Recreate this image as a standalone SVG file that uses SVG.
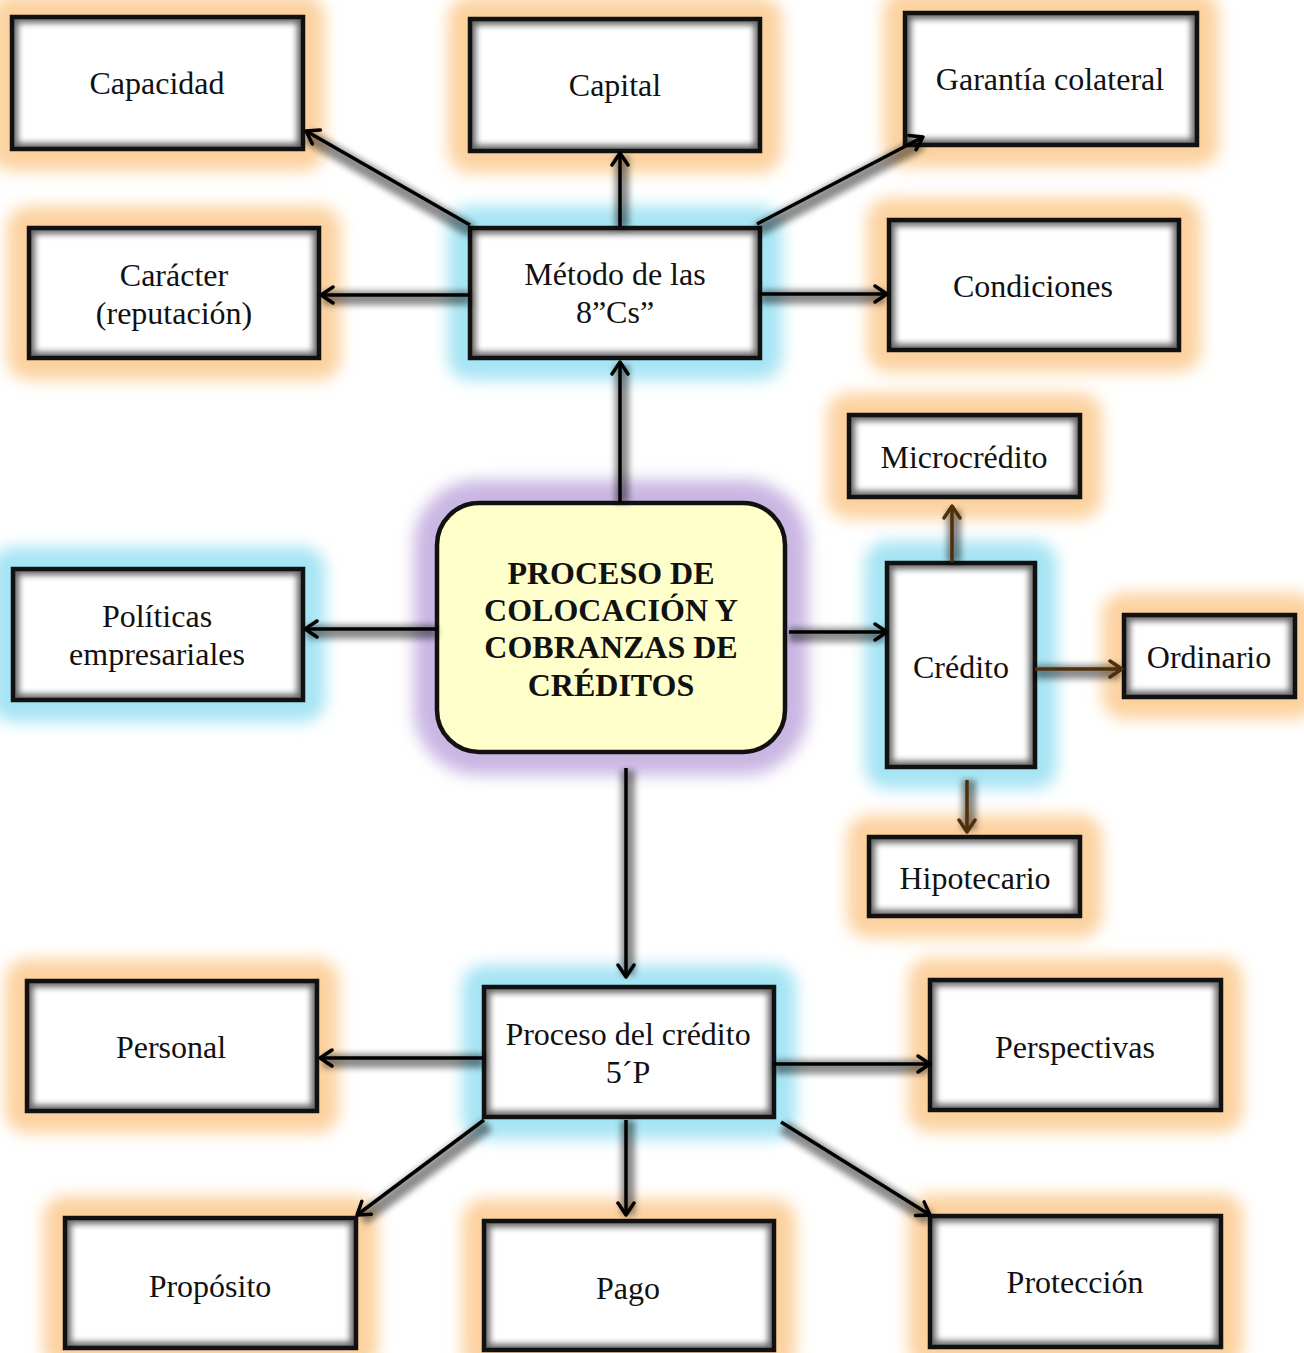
<svg xmlns="http://www.w3.org/2000/svg" width="1304" height="1353" viewBox="0 0 1304 1353">
  <style>
    .glow-o { fill: #fcd29f; stroke: #fcd29f; stroke-width: 44; stroke-linejoin: round; }
    .glow-b { fill: #a5e4f4; stroke: #a5e4f4; stroke-width: 44; stroke-linejoin: round; }
    .glow-p { fill: #c9b6e3; stroke: #c9b6e3; stroke-width: 46; }
    .face { fill: #ffffff; }
    .face-y { fill: #ffffcc; }
    .rim { fill: none; stroke: #000; stroke-opacity: 0.6; stroke-width: 12; }
    .edge { fill: none; stroke: #111; stroke-width: 4.5; }
    .lbl { font-family: "Liberation Serif", "Times New Roman", serif; font-size: 32px; fill: #111; text-anchor: middle; }
    .big { font-family: "Liberation Serif", "Times New Roman", serif; font-size: 32px; font-weight: bold; fill: #111; text-anchor: middle; }
    .band { fill: #000; fill-opacity: 0.45; }
    .line { stroke: #000; stroke-width: 3.5; fill: none; marker-end: url(#head); }
    .line-br { stroke: #4f300c; stroke-width: 3.5; fill: none; marker-end: url(#head-br); }
  </style>
  <defs>
    <filter id="soft" filterUnits="userSpaceOnUse" x="0" y="0" width="1304" height="1353">
      <feGaussianBlur stdDeviation="8"/>
    </filter>
    <filter id="rimblur" filterUnits="userSpaceOnUse" x="0" y="0" width="1304" height="1353">
      <feGaussianBlur stdDeviation="3"/>
    </filter>
    <!-- clips a shape's soft rim to the inside of its own box -->
    <clipPath id="inbox" clipPathUnits="objectBoundingBox">
      <rect x="0" y="0" width="1" height="1"/>
    </clipPath>
    <marker id="head" viewBox="0 0 16 20" markerWidth="16" markerHeight="20" refX="14" refY="10" orient="auto" markerUnits="userSpaceOnUse">
      <path d="M2,2 L14,10 L2,18" fill="none" stroke="#000" stroke-width="3.5" stroke-linecap="round" stroke-linejoin="round"/>
    </marker>
    <marker id="head-br" viewBox="0 0 16 20" markerWidth="16" markerHeight="20" refX="14" refY="10" orient="auto" markerUnits="userSpaceOnUse">
      <path d="M2,2 L14,10 L2,18" fill="none" stroke="#4f300c" stroke-width="3.5" stroke-linecap="round" stroke-linejoin="round"/>
    </marker>
  </defs>

  <rect width="1304" height="1353" fill="#ffffff"/>

  <!-- coloured halos behind all boxes -->
  <g id="halos" filter="url(#soft)">
    <rect class="glow-o" x="12" y="17" width="291" height="132"/>
    <rect class="glow-o" x="470" y="19" width="290" height="132"/>
    <rect class="glow-o" x="905" y="13" width="292" height="132"/>
    <rect class="glow-o" x="29" y="228" width="290" height="130"/>
    <rect class="glow-b" x="470" y="228" width="290" height="130"/>
    <rect class="glow-o" x="889" y="220" width="290" height="130"/>
    <rect class="glow-o" x="849" y="415" width="231" height="82"/>
    <rect class="glow-b" x="13" y="569" width="290" height="131"/>
    <rect class="glow-p" x="437" y="503" width="348" height="249" rx="42"/>
    <rect class="glow-b" x="887" y="563" width="148" height="204"/>
    <rect class="glow-o" x="1124" y="615" width="171" height="82"/>
    <rect class="glow-o" x="869" y="837" width="211" height="79"/>
    <rect class="glow-b" x="484" y="987" width="290" height="130"/>
    <rect class="glow-o" x="27" y="981" width="290" height="130"/>
    <rect class="glow-o" x="930" y="980" width="291" height="130"/>
    <rect class="glow-o" x="65" y="1218" width="291" height="130"/>
    <rect class="glow-o" x="484" y="1221" width="290" height="129"/>
    <rect class="glow-o" x="930" y="1216" width="291" height="131"/>
  </g>

  <g id="capacidad">
    <rect class="face" x="12" y="17" width="291" height="132"/>
    <g clip-path="url(#inbox)"><rect class="rim" x="12" y="17" width="291" height="132" filter="url(#rimblur)"/></g>
    <rect class="edge" x="12" y="17" width="291" height="132"/>
    <text class="lbl" x="157" y="94">Capacidad</text>
  </g>
  <g id="capital">
    <rect class="face" x="470" y="19" width="290" height="132"/>
    <g clip-path="url(#inbox)"><rect class="rim" x="470" y="19" width="290" height="132" filter="url(#rimblur)"/></g>
    <rect class="edge" x="470" y="19" width="290" height="132"/>
    <text class="lbl" x="615" y="96">Capital</text>
  </g>
  <g id="garantia">
    <rect class="face" x="905" y="13" width="292" height="132"/>
    <g clip-path="url(#inbox)"><rect class="rim" x="905" y="13" width="292" height="132" filter="url(#rimblur)"/></g>
    <rect class="edge" x="905" y="13" width="292" height="132"/>
    <text class="lbl" x="1050" y="90">Garantía colateral</text>
  </g>
  <g id="caracter">
    <rect class="face" x="29" y="228" width="290" height="130"/>
    <g clip-path="url(#inbox)"><rect class="rim" x="29" y="228" width="290" height="130" filter="url(#rimblur)"/></g>
    <rect class="edge" x="29" y="228" width="290" height="130"/>
    <text class="lbl" x="174" y="286">Carácter</text>
    <text class="lbl" x="174" y="324">(reputación)</text>
  </g>
  <g id="metodo">
    <rect class="face" x="470" y="228" width="290" height="130"/>
    <g clip-path="url(#inbox)"><rect class="rim" x="470" y="228" width="290" height="130" filter="url(#rimblur)"/></g>
    <rect class="edge" x="470" y="228" width="290" height="130"/>
    <text class="lbl" x="615" y="285">Método de las</text>
    <text class="lbl" x="615" y="323">8”Cs”</text>
  </g>
  <g id="condiciones">
    <rect class="face" x="889" y="220" width="290" height="130"/>
    <g clip-path="url(#inbox)"><rect class="rim" x="889" y="220" width="290" height="130" filter="url(#rimblur)"/></g>
    <rect class="edge" x="889" y="220" width="290" height="130"/>
    <text class="lbl" x="1033" y="297">Condiciones</text>
  </g>
  <g id="microcredito">
    <rect class="face" x="849" y="415" width="231" height="82"/>
    <g clip-path="url(#inbox)"><rect class="rim" x="849" y="415" width="231" height="82" filter="url(#rimblur)"/></g>
    <rect class="edge" x="849" y="415" width="231" height="82"/>
    <text class="lbl" x="964" y="468">Microcrédito</text>
  </g>
  <g id="politicas">
    <rect class="face" x="13" y="569" width="290" height="131"/>
    <g clip-path="url(#inbox)"><rect class="rim" x="13" y="569" width="290" height="131" filter="url(#rimblur)"/></g>
    <rect class="edge" x="13" y="569" width="290" height="131"/>
    <text class="lbl" x="157" y="627">Políticas</text>
    <text class="lbl" x="157" y="665">empresariales</text>
  </g>
  <g id="proceso-colocacion">
    <rect class="face-y" x="437" y="503" width="348" height="249" rx="42"/>
    <rect class="edge" x="437" y="503" width="348" height="249" rx="42"/>
    <text class="big" x="611" y="584">PROCESO DE</text>
    <text class="big" x="611" y="621">COLOCACIÓN Y</text>
    <text class="big" x="611" y="658">COBRANZAS DE</text>
    <text class="big" x="611" y="696">CRÉDITOS</text>
  </g>
  <g id="credito">
    <rect class="face" x="887" y="563" width="148" height="204"/>
    <g clip-path="url(#inbox)"><rect class="rim" x="887" y="563" width="148" height="204" filter="url(#rimblur)"/></g>
    <rect class="edge" x="887" y="563" width="148" height="204"/>
    <text class="lbl" x="961" y="678">Crédito</text>
  </g>
  <g id="ordinario">
    <rect class="face" x="1124" y="615" width="171" height="82"/>
    <g clip-path="url(#inbox)"><rect class="rim" x="1124" y="615" width="171" height="82" filter="url(#rimblur)"/></g>
    <rect class="edge" x="1124" y="615" width="171" height="82"/>
    <text class="lbl" x="1209" y="668">Ordinario</text>
  </g>
  <g id="hipotecario">
    <rect class="face" x="869" y="837" width="211" height="79"/>
    <g clip-path="url(#inbox)"><rect class="rim" x="869" y="837" width="211" height="79" filter="url(#rimblur)"/></g>
    <rect class="edge" x="869" y="837" width="211" height="79"/>
    <text class="lbl" x="975" y="889">Hipotecario</text>
  </g>
  <g id="proceso-credito">
    <rect class="face" x="484" y="987" width="290" height="130"/>
    <g clip-path="url(#inbox)"><rect class="rim" x="484" y="987" width="290" height="130" filter="url(#rimblur)"/></g>
    <rect class="edge" x="484" y="987" width="290" height="130"/>
    <text class="lbl" x="628" y="1045">Proceso del crédito</text>
    <text class="lbl" x="628" y="1083">5´P</text>
  </g>
  <g id="personal">
    <rect class="face" x="27" y="981" width="290" height="130"/>
    <g clip-path="url(#inbox)"><rect class="rim" x="27" y="981" width="290" height="130" filter="url(#rimblur)"/></g>
    <rect class="edge" x="27" y="981" width="290" height="130"/>
    <text class="lbl" x="171" y="1058">Personal</text>
  </g>
  <g id="perspectivas">
    <rect class="face" x="930" y="980" width="291" height="130"/>
    <g clip-path="url(#inbox)"><rect class="rim" x="930" y="980" width="291" height="130" filter="url(#rimblur)"/></g>
    <rect class="edge" x="930" y="980" width="291" height="130"/>
    <text class="lbl" x="1075" y="1058">Perspectivas</text>
  </g>
  <g id="proposito">
    <rect class="face" x="65" y="1218" width="291" height="130"/>
    <g clip-path="url(#inbox)"><rect class="rim" x="65" y="1218" width="291" height="130" filter="url(#rimblur)"/></g>
    <rect class="edge" x="65" y="1218" width="291" height="130"/>
    <text class="lbl" x="210" y="1297">Propósito</text>
  </g>
  <g id="pago">
    <rect class="face" x="484" y="1221" width="290" height="129"/>
    <g clip-path="url(#inbox)"><rect class="rim" x="484" y="1221" width="290" height="129" filter="url(#rimblur)"/></g>
    <rect class="edge" x="484" y="1221" width="290" height="129"/>
    <text class="lbl" x="628" y="1299">Pago</text>
  </g>
  <g id="proteccion">
    <rect class="face" x="930" y="1216" width="291" height="131"/>
    <g clip-path="url(#inbox)"><rect class="rim" x="930" y="1216" width="291" height="131" filter="url(#rimblur)"/></g>
    <rect class="edge" x="930" y="1216" width="291" height="131"/>
    <text class="lbl" x="1075" y="1293">Protección</text>
  </g>

  <!-- soft shadow bands that sit under the connector lines -->
  <g id="connector-shade">
    <rect class="band" filter="url(#rimblur)" x="472" y="224" width="190" height="14" transform="rotate(209.93 472 231)"/>
    <rect class="band" filter="url(#rimblur)" x="615" y="156" width="14" height="72"/>
    <rect class="band" filter="url(#rimblur)" x="758" y="223" width="185" height="14" transform="rotate(-27.94 758 230)"/>
    <rect class="band" filter="url(#rimblur)" x="323" y="291" width="147" height="14"/>
    <rect class="band" filter="url(#rimblur)" x="760" y="290" width="125" height="14"/>
    <rect class="band" filter="url(#rimblur)" x="615" y="365" width="14" height="138"/>
    <rect class="band" filter="url(#rimblur)" x="307" y="625" width="130" height="14"/>
    <rect class="band" filter="url(#rimblur)" x="789" y="628" width="96" height="14"/>
    <rect class="band" filter="url(#rimblur)" x="621" y="770" width="14" height="205"/>
    <rect class="band" filter="url(#rimblur)" x="947" y="510" width="14" height="53"/>
    <rect class="band" filter="url(#rimblur)" x="1035" y="665" width="85" height="14"/>
    <rect class="band" filter="url(#rimblur)" x="962" y="780" width="14" height="50"/>
    <rect class="band" filter="url(#rimblur)" x="323" y="1054" width="161" height="14"/>
    <rect class="band" filter="url(#rimblur)" x="774" y="1060" width="154" height="14"/>
    <rect class="band" filter="url(#rimblur)" x="488" y="1118" width="157" height="14" transform="rotate(143.28 488 1125)"/>
    <rect class="band" filter="url(#rimblur)" x="621" y="1120" width="14" height="95"/>
    <rect class="band" filter="url(#rimblur)" x="783" y="1120" width="173" height="14" transform="rotate(32.04 783 1127)"/>
  </g>

  <g id="connectors">
    <line class="line" x1="470" y1="225" x2="306" y2="131"/>
    <line class="line" x1="620" y1="226" x2="620" y2="153"/>
    <line class="line" x1="757" y1="224" x2="923" y2="137"/>
    <line class="line" x1="470" y1="295" x2="321" y2="295"/>
    <line class="line" x1="760" y1="294" x2="887" y2="294"/>
    <line class="line" x1="620" y1="503" x2="620" y2="362"/>
    <line class="line" x1="437" y1="629" x2="305" y2="629"/>
    <line class="line" x1="789" y1="632" x2="887" y2="632"/>
    <line class="line" x1="626" y1="768" x2="626" y2="977"/>
    <line class="line-br" x1="952" y1="562" x2="952" y2="506"/>
    <line class="line-br" x1="1035" y1="669" x2="1122" y2="669"/>
    <line class="line-br" x1="967" y1="780" x2="967" y2="832"/>
    <line class="line" x1="484" y1="1058" x2="320" y2="1058"/>
    <line class="line" x1="774" y1="1064" x2="930" y2="1064"/>
    <line class="line" x1="484" y1="1120" x2="357" y2="1215"/>
    <line class="line" x1="626" y1="1120" x2="626" y2="1215"/>
    <line class="line" x1="781" y1="1122" x2="930" y2="1215"/>
  </g>
</svg>
